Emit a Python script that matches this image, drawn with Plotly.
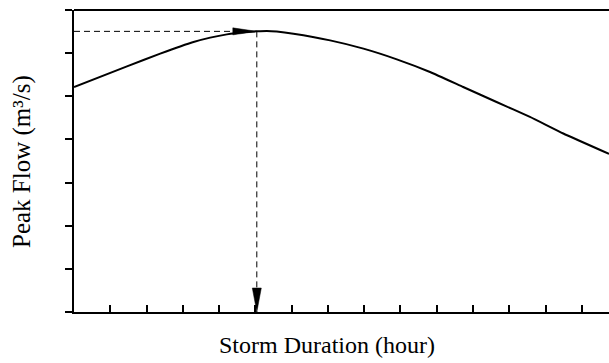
import plotly.graph_objects as go

# Data (x: storm duration units, y: peak flow units)
duration = [0.0, 1.46, 2.377, 3.295, 3.755, 4.215, 4.766, 5.04, 5.317, 5.59, 6.05, 7.06,
            7.98, 8.90, 9.815, 10.73, 11.65, 12.57, 13.49, 14.75]
peak_flow = [5.215, 5.694, 5.988, 6.257, 6.359, 6.435, 6.488, 6.505, 6.515, 6.50, 6.45, 6.296,
             6.104, 5.856, 5.563, 5.215, 4.868, 4.521, 4.137, 3.665]

# Design point marked with dashed guide lines
design_x = 5.04
design_y = 6.505

x_ticks = list(range(0, 15))
y_ticks = list(range(0, 8))
x_range = [0, 14.75]
y_range = [0, 7]

W, H = 609, 363
ML, MR, MT, MB = 74, 0, 10, 51
px_x = (W - ML - MR) / (x_range[1] - x_range[0])
px_y = (H - MT - MB) / (y_range[1] - y_range[0])

fig = go.Figure()

fig.add_trace(go.Scatter(x=duration, y=peak_flow, mode="lines",
                         line=dict(color="black", width=2, shape="spline", smoothing=0.4),
                         hoverinfo="skip", showlegend=False))

# dashed guides
fig.add_trace(go.Scatter(x=[x_range[0], design_x], y=[design_y, design_y], mode="lines",
                         line=dict(color="black", width=1, dash="6px,4px"),
                         hoverinfo="skip", showlegend=False))
fig.add_trace(go.Scatter(x=[design_x, design_x], y=[design_y, y_range[0]], mode="lines",
                         line=dict(color="black", width=1, dash="6px,4px"),
                         hoverinfo="skip", showlegend=False))

# arrowheads (long narrow triangles)
L = 24
hw = 3.5
ax0 = design_x - L / px_x
hy = hw / px_y
fig.add_shape(type="path",
              path=f"M {design_x} {design_y} L {ax0} {design_y + hy} L {ax0} {design_y - hy} Z",
              fillcolor="black", line=dict(color="black", width=0.5), xref="x", yref="y")
hw2 = 4.5
ay0 = y_range[0] + L / px_y
hx = hw2 / px_x
fig.add_shape(type="path",
              path=f"M {design_x} {y_range[0]} L {design_x - hx} {ay0} L {design_x + hx} {ay0} Z",
              fillcolor="black", line=dict(color="black", width=0.5), xref="x", yref="y")

# top border line
fig.add_shape(type="line", xref="paper", yref="paper", x0=0, x1=1, y0=1, y1=1,
              line=dict(color="black", width=2))

font = dict(family="Liberation Serif, serif", size=24, color="black")
fig.add_annotation(text="Storm Duration (hour)", xref="paper", yref="paper",
                   x=(327 - ML) / (W - ML - MR), y=(H - MB - 345) / (H - MT - MB),
                   xanchor="center", yanchor="middle", showarrow=False, font=font)
fig.add_annotation(text="Peak Flow (m³/s)", xref="paper", yref="paper",
                   x=(22 - ML) / (W - ML - MR), y=((H - MB) - 162) / (H - MT - MB),
                   xanchor="center", yanchor="middle", textangle=-90, showarrow=False,
                   font=dict(family="Liberation Serif, serif", size=25, color="black"))

fig.update_layout(
    width=W, height=H,
    margin=dict(l=ML, r=MR, t=MT, b=MB, pad=0),
    plot_bgcolor="white", paper_bgcolor="white",
    xaxis=dict(range=x_range, tickvals=x_ticks, ticks="inside", ticklen=7, tickwidth=2,
               tickcolor="black", showticklabels=False, showgrid=False, zeroline=False,
               showline=True, linecolor="black", linewidth=2),
    yaxis=dict(range=y_range, tickvals=y_ticks, ticks="outside", ticklen=7, tickwidth=2,
               tickcolor="black", showticklabels=False, showgrid=False, zeroline=False,
               showline=True, linecolor="black", linewidth=2),
)

fig.write_html("out.html")
